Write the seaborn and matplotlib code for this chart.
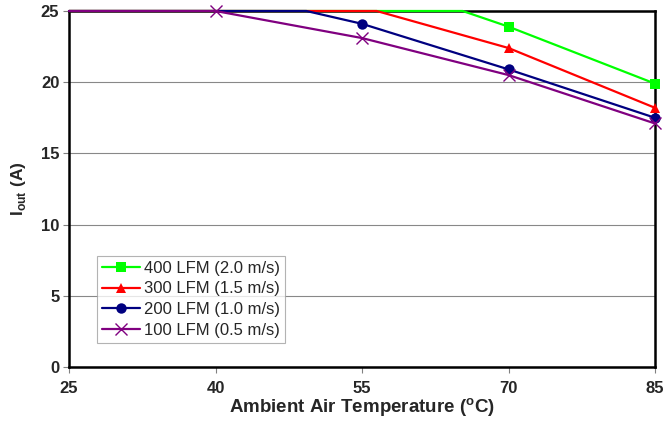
import matplotlib
matplotlib.use("Agg")
import matplotlib.pyplot as plt
import seaborn as sns

# derating curves
t_400 = [25, 65.3, 70, 85]
i_400 = [25, 25, 23.9, 19.9]
t_300 = [25, 56.5, 70, 85]
i_300 = [25, 25, 22.4, 18.2]
t_200 = [25, 49.3, 55, 70, 85]
i_200 = [25, 25, 24.1, 20.9, 17.5]
t_100 = [25, 40, 55, 70, 85]
i_100 = [25, 25, 23.1, 20.5, 17.1]

x_ticks = [25, 40, 55, 70, 85]
y_ticks = [0, 5, 10, 15, 20, 25]

sns.set_style("white")
plt.rcParams['font.family'] = ['Liberation Sans', 'DejaVu Sans']

fig = plt.figure(figsize=(6.65, 4.23), dpi=100)
ax = fig.add_axes([0.1038, 0.1324, 0.8812, 0.8416])

series = [
    (t_400, i_400, "#00FF00", "s", 6.5, [2, 3], "400 LFM (2.0 m/s)"),
    (t_300, i_300, "#FF0000", "^", 7, [2, 3], "300 LFM (1.5 m/s)"),
    (t_200, i_200, "#000080", "o", 7.5, [2, 3, 4], "200 LFM (1.0 m/s)"),
    (t_100, i_100, "#800080", "x", 9, [1, 2, 3, 4], "100 LFM (0.5 m/s)"),
]
for tx, iy, col, mk, ms, every, lab in series:
    sns.lineplot(x=tx, y=iy, ax=ax, color=col, marker=mk, markersize=ms,
                 markevery=every, linewidth=1.6, sort=False, label=lab,
                 clip_on=False, markeredgewidth=1.0 if mk == "x" else 0,
                 markeredgecolor=col, zorder=3)

ax.set_xlim(25, 85)
ax.set_ylim(0, 25)
ax.set_xticks(x_ticks)
ax.set_yticks(y_ticks)
ax.set_xticklabels([str(v) for v in x_ticks], fontweight="bold", fontsize=12)
ax.set_yticklabels([str(v) for v in y_ticks], fontweight="bold", fontsize=12)
ax.tick_params(axis="both", direction="out", length=4, width=0.8,
               color="#808080", pad=3, bottom=True, left=True)
ax.tick_params(axis="x", pad=6)

ax.yaxis.grid(True, color="#888888", linewidth=0.8)
ax.xaxis.grid(False)
ax.set_axisbelow(True)
for sp in ax.spines.values():
    sp.set_color("black")
    sp.set_linewidth(1.8)
    sp.set_zorder(2)

ax.set_xlabel(r"Ambient Air Temperature ($^{\mathregular{o}}$C)", fontweight="bold",
              fontsize=13.5, labelpad=0)
ax.set_ylabel(r"I$_{\mathregular{out}}$ (A)", fontweight="bold", fontsize=12.5, labelpad=9)

leg = ax.legend(loc="lower left", bbox_to_anchor=(0.048, 0.067), fontsize=12,
                frameon=True, fancybox=False, edgecolor="#a0a0a0",
                handlelength=2.3, borderpad=0.3, labelspacing=0.35,
                handletextpad=0.2, borderaxespad=0)
leg.get_frame().set_linewidth(0.8)

fig.savefig("out.png", dpi=100)
